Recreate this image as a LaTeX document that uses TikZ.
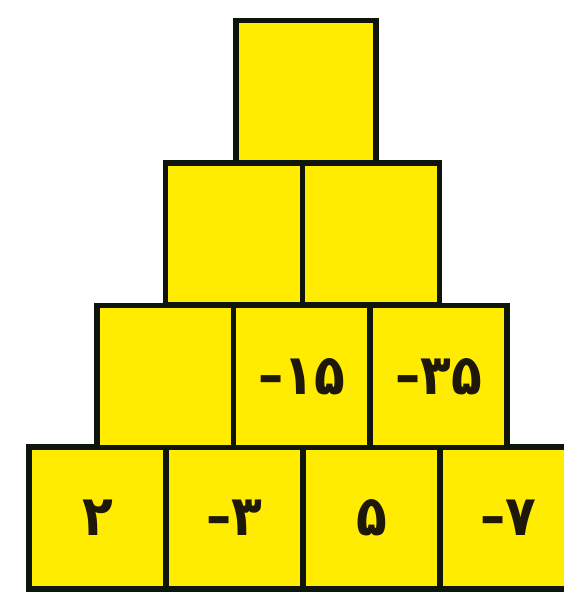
\documentclass[tikz,border=0pt]{standalone}
\usepackage{fontspec}
\newfontfamily\pfont{DejaVu Sans Condensed Bold}
\definecolor{boxyellow}{RGB}{255,236,0}
\definecolor{edge}{RGB}{14,22,12}
\definecolor{digit}{RGB}{30,24,10}
\tikzset{
  cell/.style={draw=edge, fill=boxyellow, line width=5.5pt, minimum width=137pt,
    minimum height=142pt, inner sep=0pt, font=\pfont\fontsize{56}{60}\selectfont,
    text=digit, anchor=center},
}
\begin{document}
\begin{tikzpicture}[x=1pt,y=-1pt]
\useasboundingbox (0,0) rectangle (564,599);
\clip (0,0) rectangle (564,599);
\fill[white] (0,0) rectangle (564,599);
% bottom row
\node[cell] (d1) at (97.5,518) {۲};
\node[cell] (d2) at (234.5,518) {–۳};
\node[cell] (d3) at (371.5,518) {۵};
\node[cell] (d4) at (508.5,518) {–۷};
% third row
\node[cell] (c1) at (165.5,376.5) {};
\node[cell] (c2) at (302,376.5) {–۱۵};
\node[cell] (c3) at (438.5,376.5) {–۳۵};
% second row
\node[cell] (b1) at (234,234) {};
\node[cell] (b2) at (371,234) {};
% top
\node[cell, minimum width=140pt] (a1) at (306,91.5) {};
\end{tikzpicture}
\end{document}
